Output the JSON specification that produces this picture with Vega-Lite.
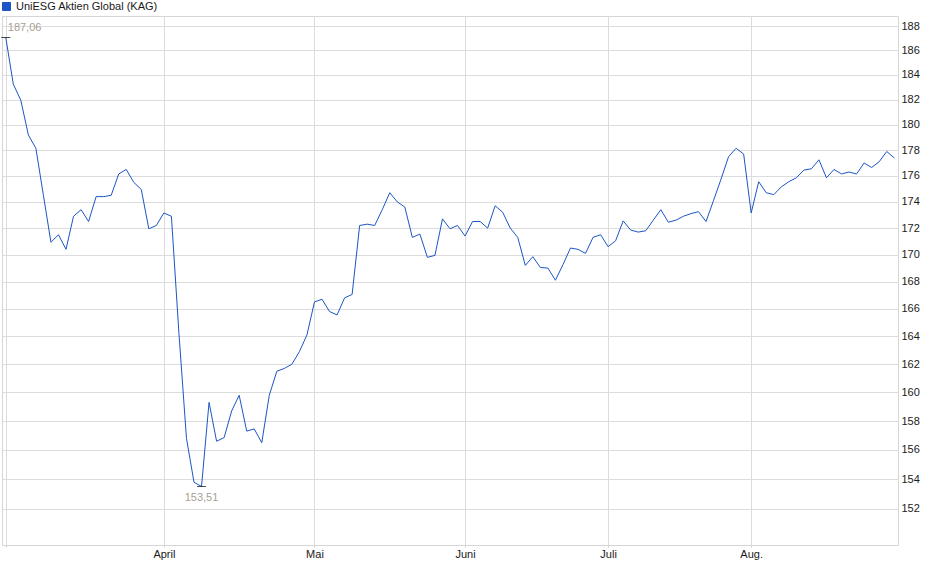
{
  "$schema": "https://vega.github.io/schema/vega-lite/v6.json",
  "width": 896,
  "height": 529,
  "autosize": {"type": "none"},
  "padding": {"left": 2, "top": 16, "right": 42, "bottom": 34},
  "background": "white",
  "config": {
    "font": "Liberation Sans",
    "view": {"stroke": "#d6d6d6", "strokeWidth": 1},
    "axis": {"labelFont": "Liberation Sans", "labelFontSize": 11, "labelColor": "#1a1a1a", "title": null}
  },
  "datasets": {
    "kurs": [
      {"Datum": "2025-03-03", "Wert": 187.06},
      {"Datum": "2025-03-04", "Wert": 183.25},
      {"Datum": "2025-03-05", "Wert": 181.95},
      {"Datum": "2025-03-06", "Wert": 179.2},
      {"Datum": "2025-03-07", "Wert": 178.15},
      {"Datum": "2025-03-10", "Wert": 174.5},
      {"Datum": "2025-03-11", "Wert": 170.93},
      {"Datum": "2025-03-12", "Wert": 171.5},
      {"Datum": "2025-03-13", "Wert": 170.4},
      {"Datum": "2025-03-14", "Wert": 172.9},
      {"Datum": "2025-03-17", "Wert": 173.4},
      {"Datum": "2025-03-18", "Wert": 172.5},
      {"Datum": "2025-03-19", "Wert": 174.4},
      {"Datum": "2025-03-20", "Wert": 174.4},
      {"Datum": "2025-03-21", "Wert": 174.5},
      {"Datum": "2025-03-24", "Wert": 176.15},
      {"Datum": "2025-03-25", "Wert": 176.5},
      {"Datum": "2025-03-26", "Wert": 175.5},
      {"Datum": "2025-03-27", "Wert": 174.95},
      {"Datum": "2025-03-28", "Wert": 171.95},
      {"Datum": "2025-03-31", "Wert": 172.2},
      {"Datum": "2025-04-01", "Wert": 173.15},
      {"Datum": "2025-04-02", "Wert": 172.9},
      {"Datum": "2025-04-03", "Wert": 164.2},
      {"Datum": "2025-04-04", "Wert": 156.8},
      {"Datum": "2025-04-07", "Wert": 153.8},
      {"Datum": "2025-04-08", "Wert": 153.51},
      {"Datum": "2025-04-09", "Wert": 159.3},
      {"Datum": "2025-04-10", "Wert": 156.6},
      {"Datum": "2025-04-11", "Wert": 156.85},
      {"Datum": "2025-04-14", "Wert": 158.7},
      {"Datum": "2025-04-15", "Wert": 159.8},
      {"Datum": "2025-04-16", "Wert": 157.3},
      {"Datum": "2025-04-17", "Wert": 157.45},
      {"Datum": "2025-04-22", "Wert": 156.5},
      {"Datum": "2025-04-23", "Wert": 159.8},
      {"Datum": "2025-04-24", "Wert": 161.5},
      {"Datum": "2025-04-25", "Wert": 161.7},
      {"Datum": "2025-04-28", "Wert": 162.0},
      {"Datum": "2025-04-29", "Wert": 162.9},
      {"Datum": "2025-04-30", "Wert": 164.1},
      {"Datum": "2025-05-02", "Wert": 166.5},
      {"Datum": "2025-05-05", "Wert": 166.7},
      {"Datum": "2025-05-06", "Wert": 165.8},
      {"Datum": "2025-05-07", "Wert": 165.55},
      {"Datum": "2025-05-08", "Wert": 166.8},
      {"Datum": "2025-05-09", "Wert": 167.05},
      {"Datum": "2025-05-12", "Wert": 172.2},
      {"Datum": "2025-05-13", "Wert": 172.3},
      {"Datum": "2025-05-14", "Wert": 172.2},
      {"Datum": "2025-05-15", "Wert": 173.4},
      {"Datum": "2025-05-16", "Wert": 174.7},
      {"Datum": "2025-05-19", "Wert": 174.0},
      {"Datum": "2025-05-20", "Wert": 173.6},
      {"Datum": "2025-05-21", "Wert": 171.3},
      {"Datum": "2025-05-22", "Wert": 171.55},
      {"Datum": "2025-05-23", "Wert": 169.8},
      {"Datum": "2025-05-26", "Wert": 169.95},
      {"Datum": "2025-05-27", "Wert": 172.7},
      {"Datum": "2025-05-28", "Wert": 171.95},
      {"Datum": "2025-05-30", "Wert": 172.2},
      {"Datum": "2025-06-02", "Wert": 171.4},
      {"Datum": "2025-06-03", "Wert": 172.5},
      {"Datum": "2025-06-04", "Wert": 172.5},
      {"Datum": "2025-06-05", "Wert": 172.0},
      {"Datum": "2025-06-06", "Wert": 173.7},
      {"Datum": "2025-06-10", "Wert": 173.2},
      {"Datum": "2025-06-11", "Wert": 172.0},
      {"Datum": "2025-06-12", "Wert": 171.3},
      {"Datum": "2025-06-13", "Wert": 169.2},
      {"Datum": "2025-06-16", "Wert": 169.85},
      {"Datum": "2025-06-17", "Wert": 169.05},
      {"Datum": "2025-06-18", "Wert": 169.0},
      {"Datum": "2025-06-20", "Wert": 168.1},
      {"Datum": "2025-06-23", "Wert": 169.25},
      {"Datum": "2025-06-24", "Wert": 170.5},
      {"Datum": "2025-06-25", "Wert": 170.4},
      {"Datum": "2025-06-26", "Wert": 170.1},
      {"Datum": "2025-06-27", "Wert": 171.3},
      {"Datum": "2025-06-30", "Wert": 171.5},
      {"Datum": "2025-07-01", "Wert": 170.6},
      {"Datum": "2025-07-02", "Wert": 171.05},
      {"Datum": "2025-07-03", "Wert": 172.55},
      {"Datum": "2025-07-04", "Wert": 171.85},
      {"Datum": "2025-07-08", "Wert": 171.7},
      {"Datum": "2025-07-09", "Wert": 171.8},
      {"Datum": "2025-07-10", "Wert": 172.6},
      {"Datum": "2025-07-11", "Wert": 173.4},
      {"Datum": "2025-07-15", "Wert": 172.45},
      {"Datum": "2025-07-16", "Wert": 172.6},
      {"Datum": "2025-07-17", "Wert": 172.9},
      {"Datum": "2025-07-18", "Wert": 173.1},
      {"Datum": "2025-07-22", "Wert": 173.25},
      {"Datum": "2025-07-23", "Wert": 172.5},
      {"Datum": "2025-07-24", "Wert": 174.1},
      {"Datum": "2025-07-25", "Wert": 175.75},
      {"Datum": "2025-07-29", "Wert": 177.5},
      {"Datum": "2025-07-30", "Wert": 178.15},
      {"Datum": "2025-07-31", "Wert": 177.7},
      {"Datum": "2025-08-01", "Wert": 173.15},
      {"Datum": "2025-08-04", "Wert": 175.55},
      {"Datum": "2025-08-05", "Wert": 174.7},
      {"Datum": "2025-08-06", "Wert": 174.55},
      {"Datum": "2025-08-07", "Wert": 175.15},
      {"Datum": "2025-08-08", "Wert": 175.55},
      {"Datum": "2025-08-11", "Wert": 175.85},
      {"Datum": "2025-08-12", "Wert": 176.45},
      {"Datum": "2025-08-13", "Wert": 176.55},
      {"Datum": "2025-08-14", "Wert": 177.25},
      {"Datum": "2025-08-15", "Wert": 175.85},
      {"Datum": "2025-08-18", "Wert": 176.5},
      {"Datum": "2025-08-19", "Wert": 176.15},
      {"Datum": "2025-08-20", "Wert": 176.3},
      {"Datum": "2025-08-21", "Wert": 176.15},
      {"Datum": "2025-08-22", "Wert": 177.0},
      {"Datum": "2025-08-25", "Wert": 176.65},
      {"Datum": "2025-08-26", "Wert": 177.1},
      {"Datum": "2025-08-27", "Wert": 177.9},
      {"Datum": "2025-08-28", "Wert": 177.4}
    ],
    "extrema": [
      {"Datum": "2025-03-03", "Wert": 187.06, "Beschriftung": "187,06", "Art": "max"},
      {"Datum": "2025-04-08", "Wert": 153.51, "Beschriftung": "153,51", "Art": "min"}
    ]
  },
  "encoding": {
    "x": {
      "field": "Datum",
      "type": "ordinal",
      "scale": {"type": "point", "padding": 0.5},
      "axis": {
        "values": ["2025-03-03", "2025-04-01", "2025-05-02", "2025-06-02", "2025-07-01", "2025-08-01"],
        "labelExpr": "datum.value == '2025-04-01' ? 'April' : datum.value == '2025-05-02' ? 'Mai' : datum.value == '2025-06-02' ? 'Juni' : datum.value == '2025-07-01' ? 'Juli' : datum.value == '2025-08-01' ? 'Aug.' : ''",
        "labelAngle": 0,
        "grid": true,
        "gridColor": "#dcdcdc",
        "domain": false,
        "tickSize": 2,
        "tickColor": "#d0d0d0",
        "labelPadding": 1
      }
    },
    "y": {
      "field": "Wert",
      "type": "quantitative",
      "scale": {"type": "log", "domain": [149.61, 188.83], "nice": false, "zero": false},
      "axis": {
        "orient": "right",
        "values": [152, 154, 156, 158, 160, 162, 164, 166, 168, 170, 172, 174, 176, 178, 180, 182, 184, 186, 188],
        "grid": true,
        "gridColor": "#dcdcdc",
        "domain": false,
        "ticks": false,
        "labelPadding": 3
      }
    }
  },
  "layer": [
    {
      "data": {"name": "kurs"},
      "mark": {"type": "line", "strokeWidth": 1},
      "encoding": {
        "color": {
          "datum": "UniESG Aktien Global (KAG)",
          "scale": {"range": ["#1c56c4"]},
          "legend": {
            "orient": "none",
            "legendX": -1,
            "legendY": -15,
            "title": null,
            "padding": 0,
            "symbolType": "square",
            "symbolSize": 64,
            "symbolFillColor": "#1c56c4",
            "symbolStrokeColor": "#0b2a6b",
            "symbolStrokeWidth": 1,
            "labelFont": "Liberation Sans",
            "labelFontSize": 11,
            "labelColor": "#1a1a1a",
            "labelOffset": 4
          }
        }
      }
    },
    {
      "data": {"name": "extrema"},
      "mark": {"type": "tick", "color": "black", "size": 9, "thickness": 1}
    },
    {
      "data": {"name": "extrema"},
      "transform": [{"filter": "datum.Art == 'max'"}],
      "mark": {"type": "text", "align": "left", "baseline": "middle", "dx": 2, "dy": -9, "fontSize": 11, "color": "#a89f94"},
      "encoding": {"text": {"field": "Beschriftung"}}
    },
    {
      "data": {"name": "extrema"},
      "transform": [{"filter": "datum.Art == 'min'"}],
      "mark": {"type": "text", "align": "center", "baseline": "middle", "dy": 11.5, "fontSize": 11, "color": "#a89f94"},
      "encoding": {"text": {"field": "Beschriftung"}}
    }
  ]
}
